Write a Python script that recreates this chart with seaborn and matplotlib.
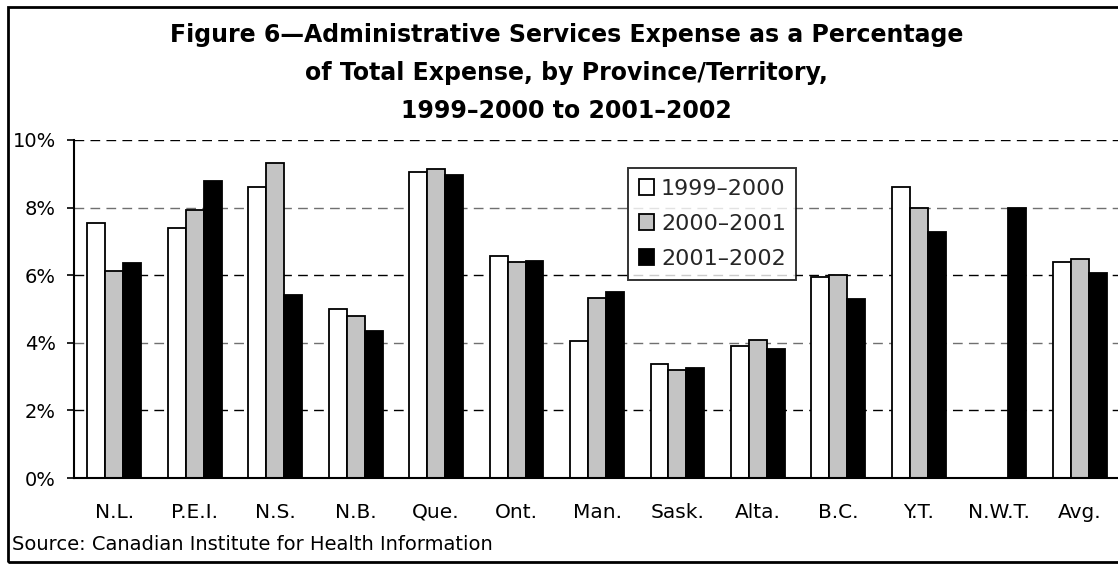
import numpy as np
import pandas as pd
import seaborn as sns
import matplotlib
matplotlib.use('Agg')
import matplotlib.pyplot as plt
from matplotlib.patches import Rectangle

# data (percent of total expense)
regions = ["N.L.", "P.E.I.", "N.S.", "N.B.", "Que.", "Ont.", "Man.",
           "Sask.", "Alta.", "B.C.", "Y.T.", "N.W.T.", "Avg."]
periods = ["1999–2000", "2000–2001", "2001–2002"]
val_1999 = [7.54, 7.41, 8.60, 5.00, 9.04, 6.57, 4.04, 3.36, 3.92, 5.96, 8.60, np.nan, 6.40]
val_2000 = [6.11, 7.93, 9.32, 4.78, 9.15, 6.39, 5.34, 3.19, 4.09, 6.01, 7.98, np.nan, 6.47]
val_2001 = [6.35, 8.78, 5.40, 4.34, 8.95, 6.41, 5.51, 3.26, 3.83, 5.30, 7.27, 8.00, 6.07]
y_ticks = [0, 2, 4, 6, 8, 10]

sns.set_theme(style="white")
plt.rcParams['font.family'] = ['DejaVu Sans']

df = pd.DataFrame({
    "region": regions * 3,
    "period": [periods[0]] * 13 + [periods[1]] * 13 + [periods[2]] * 13,
    "value": val_1999 + val_2000 + val_2001,
}).dropna()

W, H = 1118, 564
fig = plt.figure(figsize=(W / 100, H / 100), dpi=100)
ax = fig.add_axes([74 / W, 1 - 478 / H, (1120 - 74) / W, (478 - 140) / H])

sns.barplot(data=df, x="region", y="value", hue="period", order=regions,
            hue_order=periods, palette=["white", "#c4c4c4", "black"],
            edgecolor="black", linewidth=1.3, width=0.67, errorbar=None,
            saturation=1, ax=ax)

ax.set_xlim(-0.5, len(regions) - 0.5)
ax.set_ylim(0, 10)
ax.set_yticks(y_ticks)
ax.set_yticklabels([f"{t}%" for t in y_ticks])
ax.set_xlabel("")
ax.set_ylabel("")

# gridlines, dashed, alternating tone like the reference
ax.set_axisbelow(True)
ax.yaxis.grid(True, linestyle=(0, (7, 4.5)), linewidth=1.0)
for i, gl in enumerate(ax.yaxis.get_gridlines()):
    gl.set_color("black" if i % 2 == 1 else "#707070")
ax.xaxis.grid(False)

for side in ["top", "right"]:
    ax.spines[side].set_visible(False)
for side in ["left", "bottom"]:
    ax.spines[side].set_color("black")
    ax.spines[side].set_linewidth(1.5)

# tick marks between categories, labels at the centres
ax.set_xticks(np.arange(-0.5, len(regions), 1.0), minor=True)
ax.tick_params(axis="x", which="minor", length=5, width=1.2, color="black", direction="out")
ax.tick_params(axis="x", which="major", length=0, pad=18, labelsize=14.5, labelcolor="black")
ax.tick_params(axis="y", which="major", length=5, width=1.2, color="black",
               direction="out", left=True, pad=8, labelsize=14, labelcolor="black")

handles, labels = ax.get_legend_handles_labels()
leg = ax.legend(handles, labels, loc="upper left", bbox_to_anchor=(0.5297, 0.917),
                fontsize=16, frameon=True, fancybox=False, shadow=False,
                handlelength=0.7, handleheight=0.7, handletextpad=0.3,
                labelspacing=0.68, borderpad=0.48, borderaxespad=0)
leg.get_frame().set_edgecolor("black")
leg.get_frame().set_linewidth(1.4)

fig.text(0.507, 1 - 73 / H,
         "Figure 6—Administrative Services Expense as a Percentage\n"
         "of Total Expense, by Province/Territory,\n"
         "1999–2000 to 2001–2002",
         ha="center", va="center", fontsize=17, fontweight="bold",
         linespacing=1.72, color="black")
fig.text(12 / W, 1 - 545 / H, "Source: Canadian Institute for Health Information",
         ha="left", va="center", fontsize=14, color="black")

# outer frame of the figure (right side runs off the image)
fig.patches.append(Rectangle((8 / W, 1 - 562 / H), 1.2, (562 - 7) / H,
                             transform=fig.transFigure, fill=False,
                             edgecolor="black", linewidth=2, clip_on=False))

fig.savefig("out.png", dpi=100)
